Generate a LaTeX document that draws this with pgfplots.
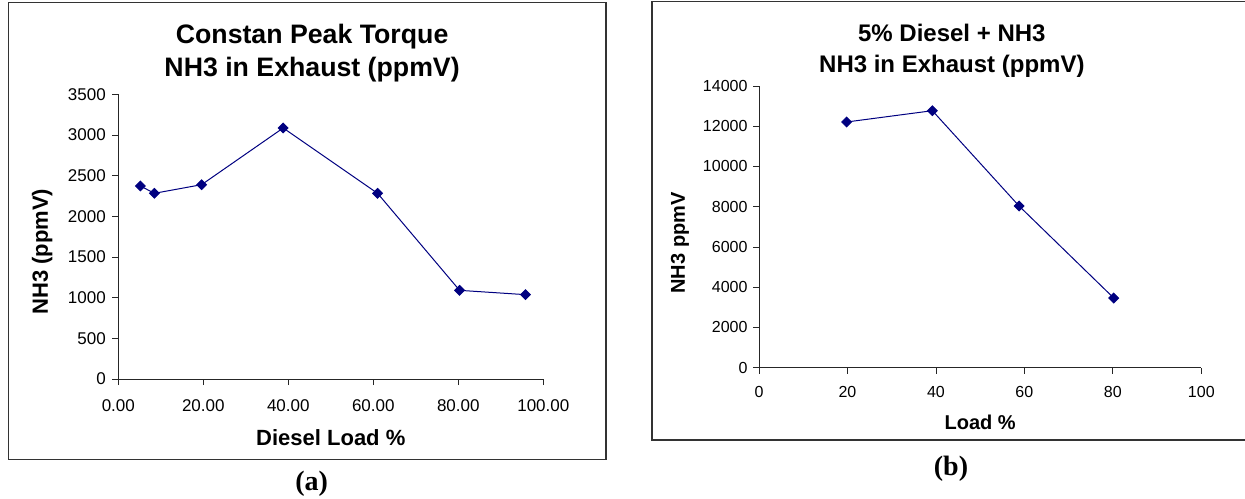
\documentclass[border=0pt]{standalone}
\usepackage{fontspec}
\setmainfont{Liberation Sans}
\newfontfamily\timesfont{Liberation Serif}
\usepackage{pgfplots}
\pgfplotsset{compat=1.18}
\definecolor{navy}{RGB}{0,0,128}
\pgfplotsset{
  common/.style={
    scale only axis,
    axis lines=left,
    axis line style={-, line width=0.8pt, black!85},
    tick align=outside,
    major tick length=6pt,
    tick style={line width=0.8pt, black!85},
    /pgf/number format/1000 sep={},
    /pgf/number format/assume math mode=true,
    scaled ticks=false,
    xmin=0, xmax=100, ymin=0,
    clip=false,
  },
  navyline/.style={navy, line width=1pt, mark=square*, mark size=3.4pt,
    mark options={rotate=45, fill=navy, solid}},
}
\begin{document}
\begin{tikzpicture}
\path[use as bounding box] (0pt,0pt) rectangle (1245pt,-498pt);
\draw[line width=1.5pt, black!80] (8.3pt,-2.7pt) rectangle (606pt,-459.7pt);
\draw[line width=1.5pt, black!80] (652pt,-1.7pt) rectangle (1260pt,-440pt);

% ---------- (a) ----------
\begin{axis}[common,
  at={(118.3pt,-379pt)}, anchor=south west,
  width=425pt, height=284.7pt,
  ymax=3500,
  xtick={0,20,40,60,80,100},
  xticklabels={0.00,20.00,40.00,60.00,80.00,100.00},
  ytick={0,500,1000,1500,2000,2500,3000,3500},
  tick label style={font=\fontsize{17}{20}\selectfont},
  xticklabel style={yshift=-11pt},
  yticklabel style={xshift=-3pt},
  title={Constan Peak Torque\\NH3 in Exhaust (ppmV)},
  title style={align=center, font=\bfseries\fontsize{26.7}{33}\selectfont,
    at={(axis description cs:0.456,1.122)}, anchor=center},
  xlabel={Diesel Load \%},
  ylabel={NH3 (ppmV)},
  xlabel style={font=\bfseries\fontsize{22}{26}\selectfont,
    at={(axis description cs:0.5,0)}, anchor=center, yshift=-59pt},
  ylabel style={font=\bfseries\fontsize{22}{26}\selectfont,
    at={(axis description cs:-0.179,0.447)}, anchor=center},
]
\addplot[navyline] coordinates {
  (5.2,2373) (8.5,2283) (19.6,2389) (38.8,3086) (61.0,2283) (80.3,1090) (95.8,1037)
};
\end{axis}

% ---------- (b) ----------
\begin{axis}[common,
  at={(759pt,-367.7pt)}, anchor=south west,
  width=442.3pt, height=281.7pt,
  ymax=14000,
  xtick={0,20,40,60,80,100},
  ytick={0,2000,4000,6000,8000,10000,12000,14000},
  tick label style={font=\fontsize{16}{19}\selectfont},
  xticklabel style={yshift=-9pt},
  yticklabel style={xshift=-2pt},
  title={5\% Diesel + NH3\\NH3 in Exhaust (ppmV)},
  title style={align=center, font=\bfseries\fontsize{24}{31}\selectfont,
    at={(axis description cs:0.436,1.105)}, anchor=center},
  xlabel={Load \%},
  ylabel={NH3 ppmV},
  xlabel style={font=\bfseries\fontsize{20}{24}\selectfont,
    at={(axis description cs:0.5,0)}, anchor=center, yshift=-54.3pt},
  ylabel style={font=\bfseries\fontsize{20}{24}\selectfont,
    at={(axis description cs:-0.1786,0.443)}, anchor=center},
]
\addplot[navyline] coordinates {
  (19.8,12211) (39.2,12773) (58.8,8036) (80.2,3464)
};
\end{axis}

\node[font=\timesfont\bfseries\fontsize{28}{32}\selectfont] at (311.6pt,-484pt) {(a)};
\node[font=\timesfont\bfseries\fontsize{28}{32}\selectfont] at (951pt,-469pt) {(b)};
\end{tikzpicture}
\end{document}
